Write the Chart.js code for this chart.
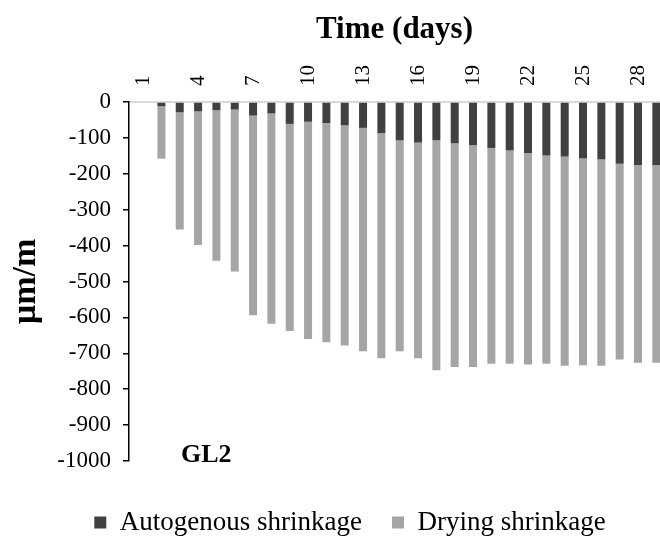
<!DOCTYPE html>
<html>
<head>
<meta charset="utf-8">
<script src="https://cdn.jsdelivr.net/npm/chart.js@4.4.1/dist/chart.umd.min.js"></script>
<style>
  html, body { margin: 0; padding: 0; overflow: hidden; background: #fff; }
</style>
</head>
<body>
<canvas id="shrinkageChart" width="660" height="546"></canvas>
<script>
// Umur sampel (hari) dan label sumbu yang ditampilkan
const days = [1, 2, 3, 4, 5, 6, 7, 8, 9, 10, 11, 12, 13, 14, 15, 16, 17, 18, 19, 20, 21, 22, 23, 24, 25, 26, 27, 28, 29];
const tickDays = [1, 4, 7, 10, 13, 16, 19, 22, 25, 28];

// Susut (µm/m)
const autogenous = [0, -12, -29, -26, -23, -21, -38, -32, -61, -55, -59, -65, -72, -87, -107, -113, -107, -115, -120, -128, -135, -142, -149, -152, -157, -160, -172, -176, -176];
const drying = [0, -146, -326, -372, -419, -451, -556, -586, -577, -605, -610, -613, -622, -627, -587, -601, -640, -623, -618, -601, -594, -589, -580, -583, -576, -575, -545, -550, -550];

const seriesNames = ['Autogenous shrinkage', 'Drying shrinkage'];
const seriesColors = ['#404040', '#a5a5a5'];
const panelLabel = 'GL2';

Chart.defaults.font.family = "'Liberation Serif', 'Times New Roman', serif";
Chart.defaults.color = '#000';

// Label panel (GL2) dan sedikit geser legenda
const extrasPlugin = {
    id: 'extras',
    afterLayout(chart) {
        chart.legend.left += 18;
        chart.legend.right += 18;
    },
    afterDatasetsDraw(chart) {
        const { ctx, scales: { x, y } } = chart;
        ctx.save();
        ctx.font = "bold 26px 'Liberation Serif'";
        ctx.fillStyle = '#000';
        ctx.textBaseline = 'middle';
        ctx.fillText(panelLabel, x.getPixelForValue(3.07), y.getPixelForValue(-985));
        ctx.restore();
    }
};

const ctx = document.getElementById('shrinkageChart').getContext('2d');

new Chart(ctx, {
    type: 'bar',
    data: {
        datasets: [autogenous, drying].map((values, i) => ({
            label: seriesNames[i],
            data: days.map((d, j) => ({ x: d, y: values[j] })),
            backgroundColor: seriesColors[i],
            borderWidth: 0,
            inflateAmount: 0,
            barThickness: 8
        }))
    },
    options: {
        responsive: false,
        animation: false,
        layout: { padding: { left: 4, top: 5, right: 0, bottom: 0 } },
        scales: {
            x: {
                type: 'linear',
                position: 'top',
                offset: false,
                min: 0.232,
                max: 29.2,
                stacked: true,
                afterBuildTicks: axis => { axis.ticks = tickDays.map(v => ({ value: v })); },
                afterFit: axis => { axis.height = 97; },
                grid: { display: false, drawTicks: false },
                border: { display: true, color: '#d9d9d9', width: 2 },
                ticks: {
                    autoSkip: false,
                    minRotation: 90,
                    maxRotation: 90,
                    padding: 16,
                    labelOffset: 26,
                    font: { size: 21 },
                    callback: v => String(v)
                },
                title: {
                    display: true,
                    text: 'Time (days)',
                    font: { size: 31, weight: 'bold' },
                    padding: { top: 6, bottom: 4 }
                }
            },
            y: {
                stacked: true,
                min: -1000,
                max: 0,
                afterFit: axis => { axis.width = 125; },
                grid: { drawOnChartArea: false, drawTicks: true, tickLength: 6, color: '#000', lineWidth: 1.5 },
                border: { color: '#000', width: 1.5 },
                ticks: {
                    stepSize: 100,
                    padding: 12,
                    font: { size: 23 },
                    callback: v => String(v)
                },
                title: {
                    display: true,
                    text: 'µm/m',
                    font: { size: 34, weight: 'bold' },
                    padding: { top: 2, bottom: 4 }
                }
            }
        },
        plugins: {
            legend: {
                position: 'bottom',
                title: { display: true, text: ' ', font: { size: 15 }, padding: 0 },
                labels: {
                    boxWidth: 12,
                    boxHeight: 12,
                    padding: 30,
                    font: { size: 27 }
                }
            },
            tooltip: { enabled: false }
        }
    },
    plugins: [extrasPlugin]
});
</script>
</body>
</html>
